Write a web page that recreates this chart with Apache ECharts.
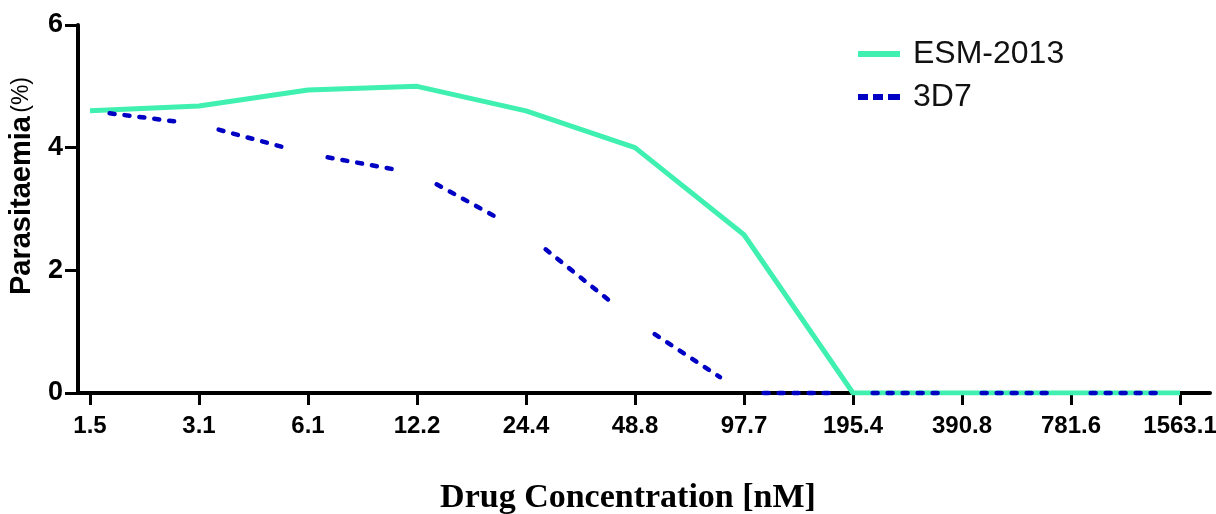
<!DOCTYPE html>
<html>
<head>
<meta charset="utf-8">
<script src="https://cdn.jsdelivr.net/npm/echarts@6/dist/echarts.min.js"></script>
<style>
  html, body { margin: 0; padding: 0; background: #ffffff; }
  #chart { width: 1216px; height: 514px; }
</style>
</head>
<body>
<div id="chart"></div>
<script>
// ---- data ----
var categories = ['1.5', '3.1', '6.1', '12.2', '24.4', '48.8', '97.7', '195.4', '390.8', '781.6', '1563.1'];
var esm2013 = [4.6, 4.68, 4.94, 5.0, 4.6, 4.0, 2.58, 0, 0, 0, 0];
var d3d7 = [4.6, 4.38, 3.9, 3.58, 2.6, 1.17, 0, 0, 0, 0, 0];
var yTicks = [0, 2, 4, 6];

var GREEN = '#3ff0b0';
var BLUE = '#0000c4';
var SANS = 'Arial, "Liberation Sans", sans-serif';
var SERIF = '"Times New Roman", "Liberation Serif", serif';

var idx = categories.map(function (c, i) { return i; });
var esmData = esm2013.map(function (v, i) { return [i, v]; });
var segData = d3d7.slice(0, -1).map(function (v, i) { return [i, v, d3d7[i + 1]]; });

var chart = echarts.init(document.getElementById('chart'), null, { renderer: 'canvas' });

chart.setOption({
  animation: false,
  backgroundColor: '#ffffff',
  grid: { left: 78, right: 6, top: 25, bottom: 121, containLabel: false, outerBoundsMode: 'none' },
  legend: {
    orient: 'vertical',
    left: 853,
    top: 31,
    itemWidth: 42,
    itemHeight: 6,
    itemGap: 7,
    selectedMode: false,
    textStyle: { fontFamily: SANS, fontSize: 32, color: '#111', lineHeight: 36, padding: [0, 0, 0, 8] },
    data: [
      { name: 'ESM-2013', icon: 'path://M0,0H42V6H0Z' },
      { name: '3D7', icon: 'path://M0,0H10V6H0Z M15,0H25V6H15Z M30,0H42V6H30Z' }
    ]
  },
  xAxis: {
    type: 'value',
    min: -0.11,
    max: 10.275,
    splitLine: { show: false },
    axisLine: { show: true, onZero: false, lineStyle: { color: '#000', width: 4 } },
    axisTick: { show: true, customValues: idx, length: 12, lineStyle: { color: '#000', width: 3 } },
    axisLabel: {
      customValues: idx,
      margin: 21,
      fontFamily: SANS, fontWeight: 'bold', fontSize: 24, color: '#000',
      formatter: function (v) { return categories[Math.round(v)]; }
    },
    name: 'Drug Concentration [nM]',
    nameLocation: 'middle',
    nameGap: 88,
    nameTextStyle: { fontFamily: SERIF, fontWeight: 'bold', fontSize: 34, color: '#000', padding: [0, 32, 0, 0] }
  },
  yAxis: {
    type: 'value',
    min: 0,
    max: 6,
    interval: 2,
    splitLine: { show: false },
    axisLine: { show: true, onZero: false, lineStyle: { color: '#000', width: 4 } },
    axisTick: { show: true, length: 13, lineStyle: { color: '#000', width: 3 } },
    axisLabel: {
      margin: 15,
      fontFamily: SANS, fontWeight: 'bold', fontSize: 27, color: '#000',
      customValues: yTicks
    },
    name: '{b|Parasitaemia} {n|(%)}',
    nameLocation: 'middle',
    nameRotate: 90,
    nameGap: 42,
    nameTextStyle: {
      padding: [0, 0, 0, 46],
      rich: {
        b: { fontFamily: SANS, fontWeight: 'bold', fontSize: 29, color: '#000' },
        n: { fontFamily: SANS, fontWeight: 'normal', fontSize: 23, color: '#000' }
      }
    }
  },
  series: [
    {
      name: 'ESM-2013',
      type: 'line',
      data: esmData,
      symbol: 'none',
      z: 3,
      lineStyle: { color: GREEN, width: 5 },
      itemStyle: { color: GREEN },
      silent: true
    },
    {
      name: '3D7',
      type: 'custom',
      data: segData,
      z: 4,
      silent: true,
      itemStyle: { color: BLUE },
      encode: { x: 0, y: 1 },
      renderItem: function (params, api) {
        var i = api.value(0);
        var p0 = api.coord([i, api.value(1)]);
        var p1 = api.coord([i + 1, api.value(2)]);
        var t0 = 0.18, t1 = 0.78;
        var a = [p0[0] + (p1[0] - p0[0]) * t0, p0[1] + (p1[1] - p0[1]) * t0];
        var b = [p0[0] + (p1[0] - p0[0]) * t1, p0[1] + (p1[1] - p0[1]) * t1];
        return {
          type: 'line',
          shape: { x1: a[0], y1: a[1], x2: b[0], y2: b[1] },
          style: { stroke: BLUE, lineWidth: 4.5, lineDash: [5, 10], lineCap: 'round', fill: null }
        };
      }
    }
  ]
});
</script>
</body>
</html>
